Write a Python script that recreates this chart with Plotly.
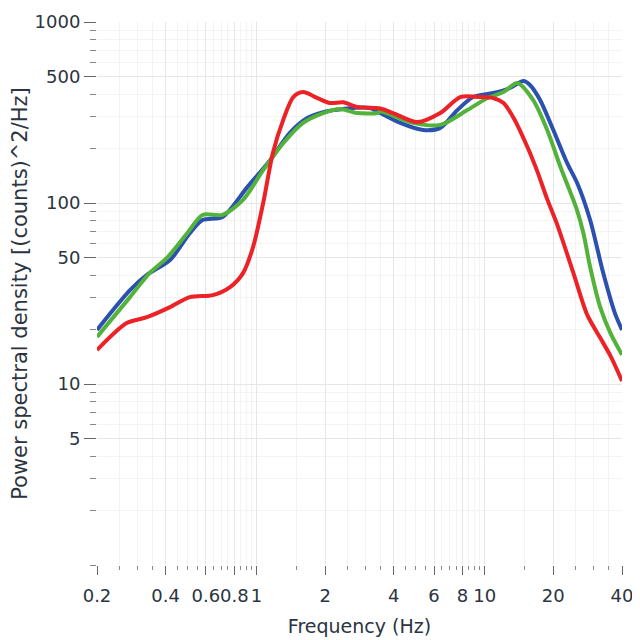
import plotly.graph_objects as go

# Frequency (Hz) / PSD values
blue_f = [0.2, 0.279, 0.33, 0.418, 0.51, 0.58, 0.71, 0.91, 1.15, 1.40, 1.67, 1.96, 2.4, 3.15, 3.49, 4.27, 5.38, 6.39, 7.59, 8.91, 10.9, 12.9, 14.8, 15.8, 17.5, 20.0, 23.0, 25.5, 29.0, 33.1, 37.2, 40]
blue_v = [19.9, 33, 40, 48.4, 68, 80.5, 83.7, 122, 173, 244, 295, 318, 331, 335, 314, 277, 253, 260, 326, 385, 405, 432, 472, 449, 371, 253, 166, 128, 80.5, 41, 24.7, 19.9]

green_f = [0.2, 0.279, 0.34, 0.405, 0.497, 0.58, 0.71, 0.873, 1.07, 1.31, 1.6, 1.96, 2.33, 2.76, 3.38, 3.49, 4.86, 6.39, 8.39, 10.3, 12.1, 13.9, 16.3, 18.8, 21.5, 23.8, 25.5, 27.1, 29.0, 32.1, 35.6, 40]
green_v = [18.2, 30.2, 41, 49.7, 68, 85.9, 86, 104, 152, 214, 277, 314, 331, 314, 314, 320, 277, 270, 326, 380, 410, 460, 371, 253, 158, 114, 90, 68, 44.3, 26.6, 19.1, 14.5]

red_f = [0.2, 0.27, 0.331, 0.418, 0.51, 0.645, 0.766, 0.873, 0.966, 1.07, 1.18, 1.31, 1.45, 1.6, 1.85, 2.1, 2.4, 2.76, 3.49, 3.97, 5.07, 6.39, 7.82, 9.57, 10.9, 12.1, 13.4, 15.4, 17.0, 18.8, 20.8, 24.5, 28.2, 32.1, 35.6, 40]
red_v = [15.4, 21.7, 23.4, 26.6, 30.2, 31, 34.3, 41, 57.1, 100, 189, 288, 385, 410, 380, 357, 360, 339, 333, 314, 280, 314, 385, 385, 380, 357, 295, 204, 150, 105, 76, 41, 24, 18, 14.3, 10.4]

x_tickvals = [0.2, 0.4, 0.6, 0.8, 1, 2, 4, 6, 8, 10, 20, 40]
x_ticktext = ["0.2", "0.4", "0.6", "0.8", "1", "2", "4", "6", "8", "10", "20", "40"]
x_minor = [0.25, 0.3, 0.35, 0.45, 0.5, 0.55, 0.65, 0.7, 0.75, 0.85, 0.9, 0.95,
           1.5, 2.5, 3, 3.5, 4.5, 5, 5.5, 6.5, 7, 7.5, 8.5, 9, 9.5, 15, 25, 30, 35]
y_tickvals = [5, 10, 50, 100, 500, 1000]
y_ticktext = ["5", "10", "50", "100", "500", "1000"]
y_minor = [1, 2, 3, 4, 6, 7, 8, 9, 20, 30, 40, 60, 70, 80, 90, 200, 300, 400, 600, 700, 800, 900]

fig = go.Figure()
for f, v, c in [(blue_f, blue_v, "#2c50b0"), (green_f, green_v, "#52b23a"), (red_f, red_v, "#ec2226")]:
    fig.add_trace(go.Scatter(x=f, y=v, mode="lines",
                             line=dict(color=c, width=4, shape="spline", smoothing=0.8),
                             showlegend=False))

font_family = "DejaVu Sans"
fig.update_layout(
    width=640, height=640,
    margin=dict(l=89, r=26, t=14, b=83),
    paper_bgcolor="white", plot_bgcolor="white",
    font=dict(family=font_family, color="#2b3440"),
    xaxis=dict(type="log", range=[-0.69897, 1.60206], automargin=False,
               tickmode="array", tickvals=x_tickvals, ticktext=x_ticktext, tickangle=0,
               ticks="outside", ticklen=9, tickcolor="#666", tickwidth=1,
               tickfont=dict(size=18), ticklabelstandoff=5,
               showgrid=True, gridcolor="#e6e6e6", gridwidth=1,
               showline=False, zeroline=False,
               minor=dict(tickvals=x_minor, ticks="outside", ticklen=4, tickcolor="#888",
                          showgrid=True, gridcolor="#f3f3f3"),
               title=dict(text="Frequency (Hz)", font=dict(size=19), standoff=15)),
    yaxis=dict(type="log", range=[0, 3], automargin=False,
               tickmode="array", tickvals=y_tickvals, ticktext=y_ticktext,
               ticks="outside", ticklen=12, tickcolor="#666", tickwidth=1,
               tickfont=dict(size=18),
               showgrid=True, gridcolor="#e6e6e6", gridwidth=1,
               showline=False, zeroline=False,
               minor=dict(tickvals=y_minor, ticks="outside", ticklen=6, tickcolor="#888",
                          showgrid=True, gridcolor="#f3f3f3"),
               title=dict(text="Power spectral density [(counts)^2/Hz]", font=dict(size=21), standoff=1)),
)

fig.write_html("out.html")
